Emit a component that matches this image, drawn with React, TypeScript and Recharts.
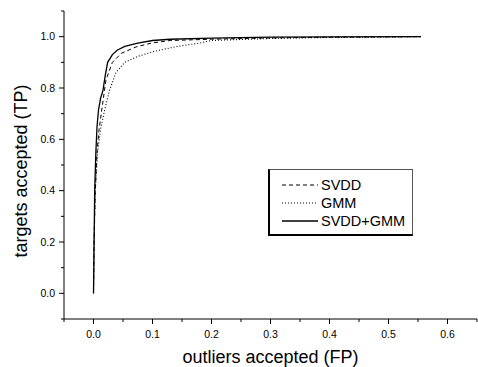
import { Label, Line, LineChart, XAxis, YAxis } from "recharts";

// ROC curves (false positive rate vs true positive rate)
const svddFp = [0, 0.001, 0.003, 0.006, 0.009, 0.014, 0.021, 0.032, 0.047, 0.072, 0.098, 0.13, 0.2, 0.3, 0.4, 0.555];
const svddTp = [0, 0.2, 0.4, 0.55, 0.63, 0.715, 0.83, 0.9, 0.935, 0.96, 0.975, 0.985, 0.99, 0.995, 0.998, 1.0];

const gmmFp = [0, 0.001, 0.003, 0.007, 0.012, 0.019, 0.027, 0.038, 0.053, 0.075, 0.103, 0.142, 0.18, 0.2, 0.3, 0.4, 0.555];
const gmmTp = [0, 0.2, 0.4, 0.55, 0.64, 0.715, 0.79, 0.86, 0.9, 0.923, 0.943, 0.962, 0.975, 0.985, 0.993, 0.997, 1.0];

const bothFp = [0, 0.001, 0.002, 0.004, 0.006, 0.0085, 0.012, 0.016, 0.02, 0.024, 0.032, 0.04, 0.053, 0.075, 0.1, 0.13, 0.2, 0.3, 0.4, 0.555];
const bothTp = [0, 0.2, 0.4, 0.55, 0.65, 0.715, 0.76, 0.79, 0.85, 0.9, 0.93, 0.947, 0.962, 0.975, 0.985, 0.99, 0.994, 0.998, 0.999, 1.0];

const xTicks = [-0.05, 0, 0.05, 0.1, 0.15, 0.2, 0.25, 0.3, 0.35, 0.4, 0.45, 0.5, 0.55, 0.6, 0.65];
const yTicks = [-0.1, 0, 0.1, 0.2, 0.3, 0.4, 0.5, 0.6, 0.7, 0.8, 0.9, 1.0, 1.1];

const series = [
  { name: "SVDD", fp: svddFp, tp: svddTp, dash: "4 3", width: 1 },
  { name: "GMM", fp: gmmFp, tp: gmmTp, dash: "1 2", width: 1.1 },
  { name: "SVDD+GMM", fp: bothFp, tp: bothTp, dash: undefined, width: 1.3 },
];

const FONT = "'Liberation Sans', Arial, sans-serif";
const TICK = 5;
const GAP = 7;

const isMajor = (v: number, step: number) => Math.abs(v / step - Math.round(v / step)) < 1e-6;

function XTick({ x, y, payload }: any) {
  const v = payload.value as number;
  const major = isMajor(v, 0.1);
  const ay = y - TICK - GAP;
  return (
    <g>
      <line x1={x} x2={x} y1={ay} y2={ay + (major ? 5 : 3)} stroke="#000" />
      {major && (
        <text x={x} y={ay + 19} textAnchor="middle" fontSize={10.5} fontFamily={FONT} fill="#000">
          {v.toFixed(1)}
        </text>
      )}
    </g>
  );
}

function YTick({ x, y, payload }: any) {
  const v = payload.value as number;
  const major = isMajor(v, 0.2);
  const ax = x + TICK + GAP;
  return (
    <g>
      <line x1={ax} x2={ax - (major ? 5 : 3)} y1={y} y2={y} stroke="#000" />
      {major && (
        <text x={ax - 9} y={y + 3.8} textAnchor="end" fontSize={10.5} fontFamily={FONT} fill="#000">
          {v.toFixed(1)}
        </text>
      )}
    </g>
  );
}

function LegendBox() {
  return (
    <div
      style={{
        position: "absolute",
        left: 268,
        top: 169,
        width: 142,
        height: 64,
        borderTop: "1px solid #555",
        borderRight: "1px solid #555",
        borderLeft: "2px solid #000",
        borderBottom: "2px solid #000",
        background: "#fff",
        fontFamily: FONT,
        fontSize: 14.5,
      }}
    >
      {series.map((s, i) => (
        <div key={s.name} style={{ position: "absolute", left: 12, top: 6 + i * 18, height: 18, display: "flex", alignItems: "center" }}>
          <svg width={38} height={4}>
            <line x1={0} x2={36} y1={2} y2={2} stroke="#000" strokeWidth={s.width} strokeDasharray={s.dash} />
          </svg>
          <span style={{ marginLeft: 1 }}>{s.name}</span>
        </div>
      ))}
    </div>
  );
}

export default function App() {
  return (
    <div style={{ position: "absolute", left: 0, top: 0, width: 478, height: 367, background: "#fff" }}>
      <LineChart width={478} height={367} margin={{ top: 11, right: 1, left: 0, bottom: 0 }}>
        <XAxis
          dataKey="x"
          type="number"
          domain={[-0.05, 0.65]}
          ticks={xTicks}
          interval={0}
          height={48}
          tickSize={TICK}
          tickMargin={GAP}
          tickLine={false}
          tick={<XTick />}
          axisLine={{ stroke: "#000" }}
          allowDataOverflow
        >
          <Label
            content={({ viewBox }: any) => (
              <text
                x={viewBox.x + viewBox.width / 2}
                y={viewBox.y + viewBox.height - 4}
                textAnchor="middle"
                fontSize={18}
                fontFamily={FONT}
                fill="#000"
              >
                outliers accepted (FP)
              </text>
            )}
          />
        </XAxis>
        <YAxis
          dataKey="y"
          type="number"
          domain={[-0.1, 1.1]}
          ticks={yTicks}
          interval={0}
          width={64}
          tickSize={TICK}
          tickMargin={GAP}
          tickLine={false}
          tick={<YTick />}
          axisLine={{ stroke: "#000" }}
          allowDataOverflow
        >
          <Label
            content={({ viewBox }: any) => {
              const cx = 27;
              const cy = viewBox.y + viewBox.height / 2 + 6;
              return (
                <text
                  x={cx}
                  y={cy}
                  transform={`rotate(-90, ${cx}, ${cy})`}
                  textAnchor="middle"
                  fontSize={18}
                  fontFamily={FONT}
                  fill="#000"
                >
                  targets accepted (TP)
                </text>
              );
            }}
          />
        </YAxis>
        {series.map((s) => (
          <Line
            key={s.name}
            name={s.name}
            data={s.fp.map((fp, i) => ({ x: fp, y: s.tp[i] }))}
            dataKey="y"
            type="linear"
            stroke="#000"
            strokeWidth={s.width}
            strokeDasharray={s.dash}
            dot={false}
            isAnimationActive={false}
          />
        ))}
      </LineChart>
      <LegendBox />
    </div>
  );
}
